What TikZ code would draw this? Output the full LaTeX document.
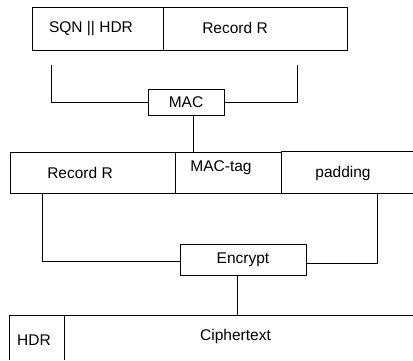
\documentclass[tikz,border=0pt]{standalone}
\usepackage{fontspec}
\setmainfont{Liberation Sans}
\usepackage{tikz}

\begin{document}
\begin{tikzpicture}[x=1pt,y=1pt,
  field/.style={draw,line width=0.9pt,inner sep=0pt,minimum height=42pt},
  openfield/.style={inner sep=0pt,minimum height=42pt},
  func/.style={draw,line width=0.9pt,inner sep=0pt},
  lbl/.style={inner sep=0pt,font=\fontsize{15.5}{18}\selectfont},
  wire/.style={line width=0.9pt}]
\useasboundingbox (0,0) rectangle (413,360);

% SQN || HDR and record
\node[field,minimum width=131pt,minimum height=43pt] (sqn) at (97.5,331.5) {};
\node[field,minimum width=184pt,minimum height=43pt] (rec) at (255,331.5) {};
\node[lbl] (sqntxt) at (91,331) {SQN || HDR};
\node[lbl] (rectxt) at (235,332) {Record R};

% MAC
\node[func,minimum width=76pt,minimum height=26pt,font=\fontsize{15.5}{18}\selectfont] (mac) at (186,258) {MAC};
\coordinate (sqnout) at (51,295);
\coordinate (recout) at (297,295);
\draw[wire] (sqnout) |- (mac.west);
\draw[wire] (recout) |- (mac.east);

% record, tag, padding (padding runs off the right edge)
\node[field,minimum width=165.7pt,minimum height=41pt] (rec2) at (92.85,187.5) {};
\node[field,minimum width=105.3pt,minimum height=41pt] (tag) at (228.35,187.5) {};
\node[openfield,minimum width=132pt,minimum height=41pt] (pad) at (347,187.5) {};
\draw[wire] (pad.north west) -- (pad.north east);
\draw[wire] (pad.south west) -- (pad.south east);
\node[lbl] (rec2txt) at (80,187) {Record R};
\node[lbl] (tagtxt) at (221,192) {MAC-tag};
\node[lbl] (padtxt) at (343,187) {padding};
\coordinate (macout) at ([xshift=7.5pt]mac.south);
\draw[wire] (macout) -- (macout |- tag.north);

% Encrypt
\node[func,minimum width=126pt,minimum height=30.3pt,font=\fontsize{15.5}{18}\selectfont] (enc) at (243,100.15) {Encrypt};
\coordinate (rec2out) at ([xshift=33pt]rec2.south west);
\coordinate (padout) at ([xshift=97pt]pad.south west);
\draw[wire] (rec2out) |- ([yshift=-2pt]enc.west);
\draw[wire] (padout) |- ([yshift=-4pt]enc.east);

% HDR and ciphertext (cut off at the bottom and right)
\node[openfield,minimum width=54pt,minimum height=44.3pt] (hdr) at (37,22.15) {};
\node[openfield,minimum width=349pt,minimum height=44.3pt] (ct) at (238.5,22.15) {};
\draw[wire] (hdr.south west) -- (hdr.north west) -- (ct.north east);
\draw[wire] (hdr.north east) -- (hdr.south east);
\node[lbl] (hdrtxt) at (34,20) {HDR};
\node[lbl] (cttxt) at (235.5,23.3) {Ciphertext};
\coordinate (encout) at ([xshift=-6pt]enc.south);
\draw[wire] (encout) -- (encout |- ct.north);
\end{tikzpicture}
\end{document}
